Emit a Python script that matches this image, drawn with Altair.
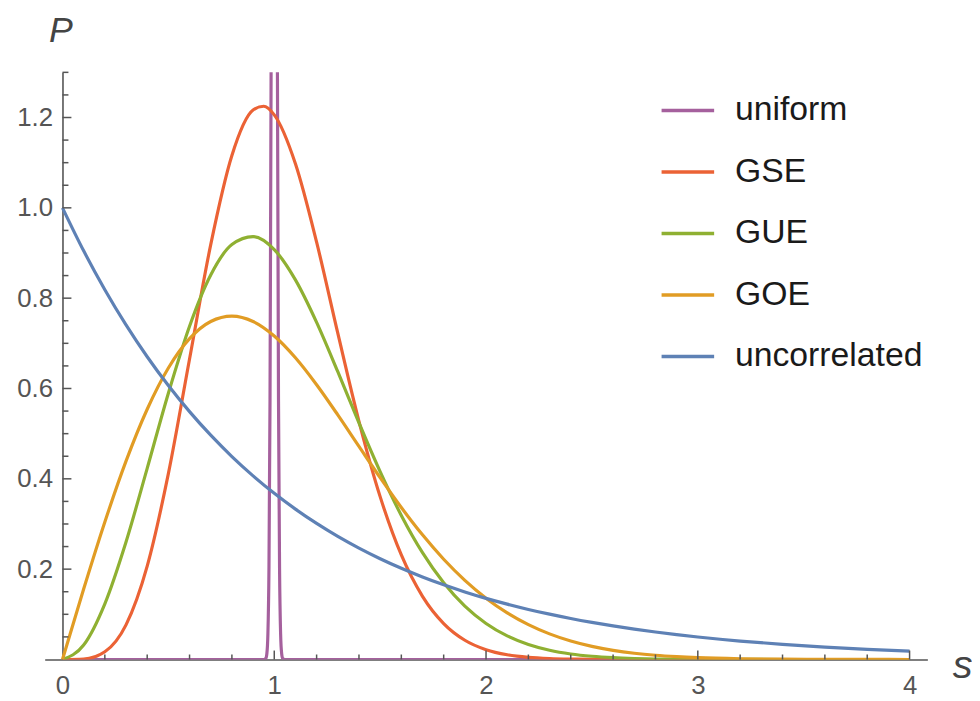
import altair as alt
import pandas as pd

# ---- data ----
SERIES = ["uniform", "GSE", "GUE", "GOE", "uncorrelated"]
COLORS = ["#A5609D", "#EB6235", "#8FB032", "#E19C24", "#5E81B5"]

S_GRID = [0.0, 0.1, 0.2, 0.3, 0.4, 0.5, 0.6, 0.7, 0.8, 0.9, 1.0, 1.1, 1.2, 1.3, 1.4,
          1.5, 1.6, 1.7, 1.8, 1.9, 2.0, 2.1, 2.2, 2.3, 2.4, 2.5, 2.6, 2.7, 2.8, 2.9,
          3.0, 3.2, 3.4, 3.6, 3.8, 4.0]

P_GOE = [0.0, 0.1559, 0.3044, 0.4391, 0.5541, 0.6454, 0.7103, 0.7483, 0.7602, 0.7483,
         0.7162, 0.6680, 0.6083, 0.5415, 0.4718, 0.4025, 0.3365, 0.2759, 0.2220, 0.1753,
         0.1358, 0.1033, 0.0772, 0.0567, 0.0409, 0.0290, 0.0202, 0.0138, 0.0093, 0.0062,
         0.0040, 0.0016, 0.0006, 0.0002, 0.0001, 0.0]

P_GUE = [0.0, 0.0320, 0.1233, 0.2602, 0.4232, 0.5896, 0.7380, 0.8514, 0.9187, 0.9363,
         0.9076, 0.8405, 0.7464, 0.6371, 0.5241, 0.4160, 0.3189, 0.2364, 0.1697, 0.1181,
         0.0797, 0.0521, 0.0331, 0.0204, 0.0122, 0.0071, 0.0040, 0.0022, 0.0011, 0.0006,
         0.0003, 0.0001, 0.0, 0.0, 0.0, 0.0]

P_UNCORR = [1.0, 0.9048, 0.8187, 0.7408, 0.6703, 0.6065, 0.5488, 0.4966, 0.4493, 0.4066,
            0.3679, 0.3329, 0.3012, 0.2725, 0.2466, 0.2231, 0.2019, 0.1827, 0.1653, 0.1496,
            0.1353, 0.1225, 0.1108, 0.1003, 0.0907, 0.0821, 0.0743, 0.0672, 0.0608, 0.0550,
            0.0498, 0.0408, 0.0334, 0.0273, 0.0224, 0.0183]

S_GSE = [0.0, 0.1, 0.2, 0.3, 0.4, 0.5, 0.6, 0.7, 0.8, 0.9, 0.95, 1.0, 1.1, 1.2, 1.3, 1.4,
         1.5, 1.6, 1.7, 1.8, 1.9, 2.0, 2.1, 2.2, 2.3, 2.4, 2.5, 2.6, 2.8, 3.0, 3.5, 4.0]
P_GSE = [0.0, 0.0011, 0.0170, 0.0766, 0.2067, 0.4116, 0.6654, 0.9185, 1.1159, 1.2165,
         1.2249, 1.2059, 1.0976, 0.9240, 0.7224, 0.5274, 0.3606, 0.2314, 0.1398, 0.0795,
         0.0426, 0.0217, 0.0104, 0.0047, 0.0020, 0.0008, 0.0003, 0.0001, 0.0, 0.0, 0.0, 0.0]

S_UNI = [0.0, 0.95, 0.96, 0.965, 0.97, 0.975, 0.98, 0.985, 0.99, 1.0, 1.01, 1.015, 1.02,
         1.025, 1.03, 1.035, 1.04, 1.05, 4.0]
P_UNI = [0.0, 0.0, 0.0022, 0.0126, 0.0567, 0.2033, 0.576, 1.295, 2.31, 3.67, 2.31, 1.295,
         0.576, 0.2033, 0.0567, 0.0126, 0.0022, 0.0, 0.0]

X_LABELS = [0, 1, 2, 3, 4]
Y_LABELS = [0.2, 0.4, 0.6, 0.8, 1.0, 1.2]
X_MAJOR_TICKS = [1, 2, 3, 4]
X_MINOR_TICKS = [0.2, 0.4, 0.6, 0.8, 1.2, 1.4, 1.6, 1.8, 2.2, 2.4, 2.6, 2.8,
                 3.2, 3.4, 3.6, 3.8]
Y_MAJOR_TICKS = [0.2, 0.4, 0.6, 0.8, 1.0, 1.2]
Y_MINOR_TICKS = [0.05, 0.1, 0.15, 0.25, 0.3, 0.35, 0.45, 0.5, 0.55, 0.65, 0.7, 0.75,
                 0.85, 0.9, 0.95, 1.05, 1.1, 1.15, 1.25, 1.3]

series_data = [
    ("uniform", S_UNI, P_UNI),
    ("GSE", S_GSE, P_GSE),
    ("GUE", S_GRID, P_GUE),
    ("GOE", S_GRID, P_GOE),
    ("uncorrelated", S_GRID, P_UNCORR),
]
rows = []
for name, xs, ps in series_data:
    for x, p in zip(xs, ps):
        rows.append({"series": name, "s": x, "P": p})
df = pd.DataFrame(rows)

# ---- layout ----
W, H = 890, 592
X_DOMAIN = [-0.084, 4.084]
Y_DOMAIN = [0, 1.3]
x0_px = W * (0 - X_DOMAIN[0]) / (X_DOMAIN[1] - X_DOMAIN[0])
AXIS_COLOR = "#555555"
FONT = "Liberation Sans"

xscale = alt.Scale(domain=X_DOMAIN, nice=False, zero=False)
yscale = alt.Scale(domain=Y_DOMAIN, nice=False, zero=False)

x_axis = alt.Axis(values=X_LABELS, format="d", title="s", ticks=False, grid=False,
                  domainColor=AXIS_COLOR, domainWidth=1.6,
                  labelFont=FONT, labelFontSize=26, labelColor=AXIS_COLOR,
                  labelPadding=13,
                  titleFont=FONT, titleFontSize=40, titleFontStyle="italic",
                  titleFontWeight="normal", titleColor="#444444",
                  titleX=915, titleY=18, titleAlign="left", titleBaseline="alphabetic",
                  titleAngle=0)
y_axis = alt.Axis(values=Y_LABELS, format=".1f", title="P", ticks=False, grid=False,
                  offset=-x0_px,
                  domainColor=AXIS_COLOR, domainWidth=1.6,
                  labelFont=FONT, labelFontSize=26, labelColor=AXIS_COLOR,
                  labelPadding=10,
                  titleFont=FONT, titleFontSize=36, titleFontStyle="italic",
                  titleFontWeight="normal", titleColor="#444444",
                  titleX=-14, titleY=-31, titleAlign="left", titleBaseline="alphabetic",
                  titleAngle=0)

color = alt.Color(
    "series:N",
    scale=alt.Scale(domain=SERIES, range=COLORS),
    legend=alt.Legend(
        orient="none", legendX=620, legendY=10, title=None,
        symbolType="stroke", symbolSize=2809, symbolStrokeWidth=3.5,
        labelFont=FONT, labelFontSize=34, labelColor="#1a1a1a", labelLimit=400,
        labelOffset=19, rowPadding=16, padding=0,
    ),
)

layers = []
for name in SERIES:
    layers.append(
        alt.Chart(df)
        .transform_filter(alt.datum.series == name)
        .mark_line(strokeWidth=3.2, interpolate="monotone", clip=True)
        .encode(
            x=alt.X("s:Q", scale=xscale, axis=x_axis),
            y=alt.Y("P:Q", scale=yscale, axis=y_axis),
            color=color,
        )
    )

xmaj = alt.Chart(pd.DataFrame({"s": X_MAJOR_TICKS})).mark_rule(
    color=AXIS_COLOR, strokeWidth=1.5).encode(
    x=alt.X("s:Q", scale=xscale, axis=x_axis), y=alt.value(H), y2=alt.value(H - 9))
xmin = alt.Chart(pd.DataFrame({"s": X_MINOR_TICKS})).mark_rule(
    color=AXIS_COLOR, strokeWidth=1.5).encode(
    x=alt.X("s:Q", scale=xscale, axis=x_axis), y=alt.value(H), y2=alt.value(H - 5))
ymaj = alt.Chart(pd.DataFrame({"P": Y_MAJOR_TICKS})).mark_rule(
    color=AXIS_COLOR, strokeWidth=1.5).encode(
    y=alt.Y("P:Q", scale=yscale, axis=y_axis), x=alt.value(x0_px), x2=alt.value(x0_px + 9))
ymin = alt.Chart(pd.DataFrame({"P": Y_MINOR_TICKS})).mark_rule(
    color=AXIS_COLOR, strokeWidth=1.5).encode(
    y=alt.Y("P:Q", scale=yscale, axis=y_axis), x=alt.value(x0_px), x2=alt.value(x0_px + 6))

chart = (
    alt.layer(*layers, xmaj, xmin, ymaj, ymin)
    .properties(
        width=W, height=H,
        autosize=alt.AutoSizeParams(type="none"),
        padding={"left": 37, "top": 62, "right": 45, "bottom": 40},
        background="white",
    )
    .configure_view(stroke=None)
)

chart.save("out.html", embed_options={"renderer": "svg", "actions": False})
